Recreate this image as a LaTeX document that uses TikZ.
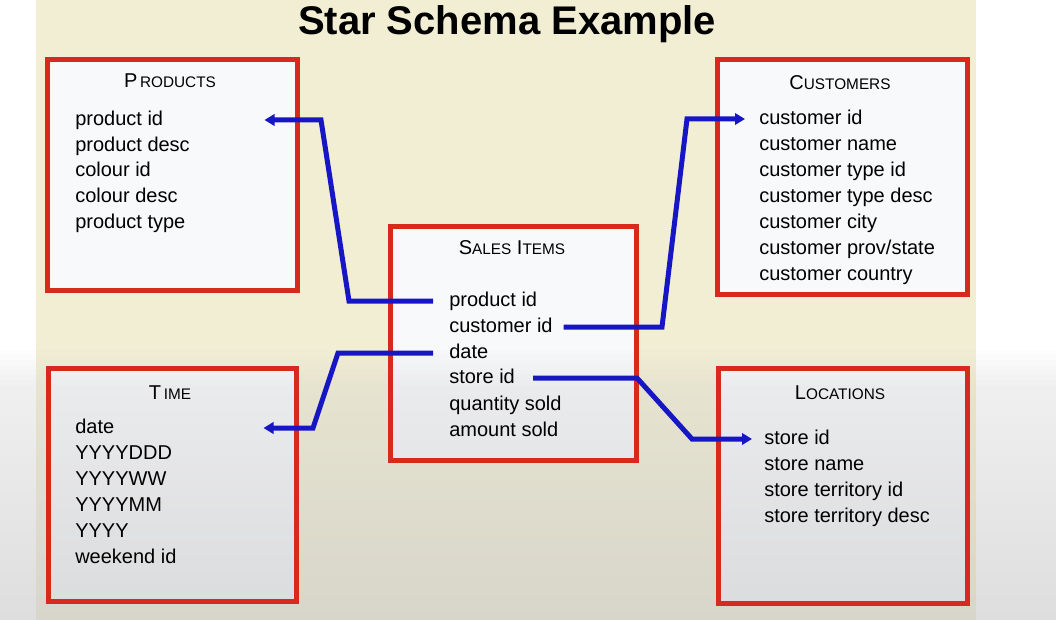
\documentclass[tikz,border=0pt]{standalone}
\usepackage{fontspec}
\setmainfont{Liberation Sans}
\usetikzlibrary{arrows.meta}
\definecolor{bgbeige}{RGB}{242,238,212}
\definecolor{boxred}{RGB}{216,42,28}
\definecolor{boxfill}{RGB}{248,249,251}
\definecolor{linkblue}{RGB}{22,22,196}
\definecolor{fadegray}{RGB}{195,195,195}
\newcommand\smc[1]{{\fontsize{11.5}{14}\selectfont #1}}
\begin{document}
\begin{tikzpicture}[x=0.75pt,y=-0.75pt,
  item/.style={anchor=west, inner sep=0pt, text height=11pt, text depth=3pt, font=\fontsize{15}{18}\selectfont},
  ttl/.style={inner sep=0pt, text height=11pt, text depth=0pt, font=\fontsize{15}{18}\selectfont},
  box/.style 2 args={fill=boxfill, outer sep=0pt, minimum width=#1*0.75pt, minimum height=#2*0.75pt, inner sep=0pt},
  border/.style={draw=boxred, line width=3.75pt},
  conn/.style={draw=linkblue, line width=3.75pt, line join=miter, -{Triangle[length=7.5pt,width=8.5pt]}}]
\useasboundingbox (0,0) rectangle (1056,620);
\fill[white] (0,0) rectangle (1056,620);
\fill[bgbeige] (36,0) rectangle (976,620);

% boxes (fill)
\node[box={250}{231}] (products) at (172.5,175) {};
\node[box={250}{235}] (customers) at (842.5,177) {};
\node[box={246}{234}] (sales) at (513.5,343.5) {};
\node[box={248}{233}] (timebox) at (172.5,485) {};
\node[box={249}{235}] (locations) at (843,486) {};

% lower fade overlay
\foreach \i in {0,...,54} {
  \pgfmathsetmacro\yy{345+5*\i}
  \pgfmathsetmacro\op{\yy<385 ? 0.25*(\yy-345)/40 : 0.25+0.30*(\yy-385)/235}
  \fill[fadegray, opacity=\op] (0,\yy) rectangle (1056,\yy+5);
}

% box borders
\foreach \b in {products,customers,sales,timebox,locations}
  \draw[border] (\b.north west) rectangle (\b.south east);

% title
\node[anchor=base, inner sep=0pt, font=\fontsize{30}{34}\selectfont\bfseries] (title) at (507,35) {Star Schema Example};

% box titles
\node[ttl] (products-t) at (170,80) {P\kern2pt\smc{RODUCTS}};
\node[ttl] (customers-t) at (840,82) {C\smc{USTOMERS}};
\node[ttl] (sales-t) at (512,247) {S\smc{ALES} I\smc{TEMS}};
\node[ttl] (time-t) at (170,392) {T\kern2pt\smc{IME}};
\node[ttl] (locations-t) at (840,392) {L\smc{OCATIONS}};

% products items
\node[item] (p-pid) at (75,120) {product id};
\node[item] (p-pdesc) at (75,146) {product desc};
\node[item] (p-cid) at (75,171) {colour id};
\node[item] (p-cdesc) at (75,197) {colour desc};
\node[item] (p-ptype) at (75,223) {product type};

% customers items
\node[item] (c-cid) at (759,119) {customer id};
\node[item] (c-name) at (759,145) {customer name};
\node[item] (c-tid) at (759,171) {customer type id};
\node[item] (c-tdesc) at (759,197) {customer type desc};
\node[item] (c-city) at (759,223) {customer city};
\node[item] (c-prov) at (759,249) {customer prov/state};
\node[item] (c-country) at (759,275) {customer country};

% sales items
\node[item] (s-pid) at (449,301) {product id};
\node[item] (s-cid) at (449,327) {customer id};
\node[item] (s-date) at (449,353) {date};
\node[item] (s-sid) at (449,378) {store id};
\node[item] (s-qty) at (449,405) {quantity sold};
\node[item] (s-amt) at (449,431) {amount sold};

% time items
\node[item] (t-date) at (75,428) {date};
\node[item] (t-ddd) at (75,454) {YYYYDDD};
\node[item] (t-ww) at (75,480) {YYYYWW};
\node[item] (t-mm) at (75,506) {YYYYMM};
\node[item] (t-yyyy) at (75,532) {YYYY};
\node[item] (t-weekend) at (75,558) {weekend id};

% locations items
\node[item] (l-sid) at (764,439) {store id};
\node[item] (l-name) at (764,465) {store name};
\node[item] (l-tid) at (764,491) {store territory id};
\node[item] (l-tdesc) at (764,517) {store territory desc};

% connectors
\draw[conn] ([xshift=-12pt]s-pid.west) -- (349,301) -- (321,120) -- ([xshift=-24.75pt]products.east |- p-pid);
\draw[conn] ([xshift=8pt]s-cid.east) -- (662,327) -- (687,119) -- ([xshift=-10.5pt]c-cid.west);
\draw[conn] ([xshift=-12pt]s-date.west) -- (338,353) -- (313,428) -- ([xshift=-24.75pt]timebox.east |- t-date);
\draw[conn] ([xshift=13.5pt]s-sid.east) -- (637,378) -- (692,439) -- ([xshift=-9pt]l-sid.west);
\end{tikzpicture}
\end{document}
